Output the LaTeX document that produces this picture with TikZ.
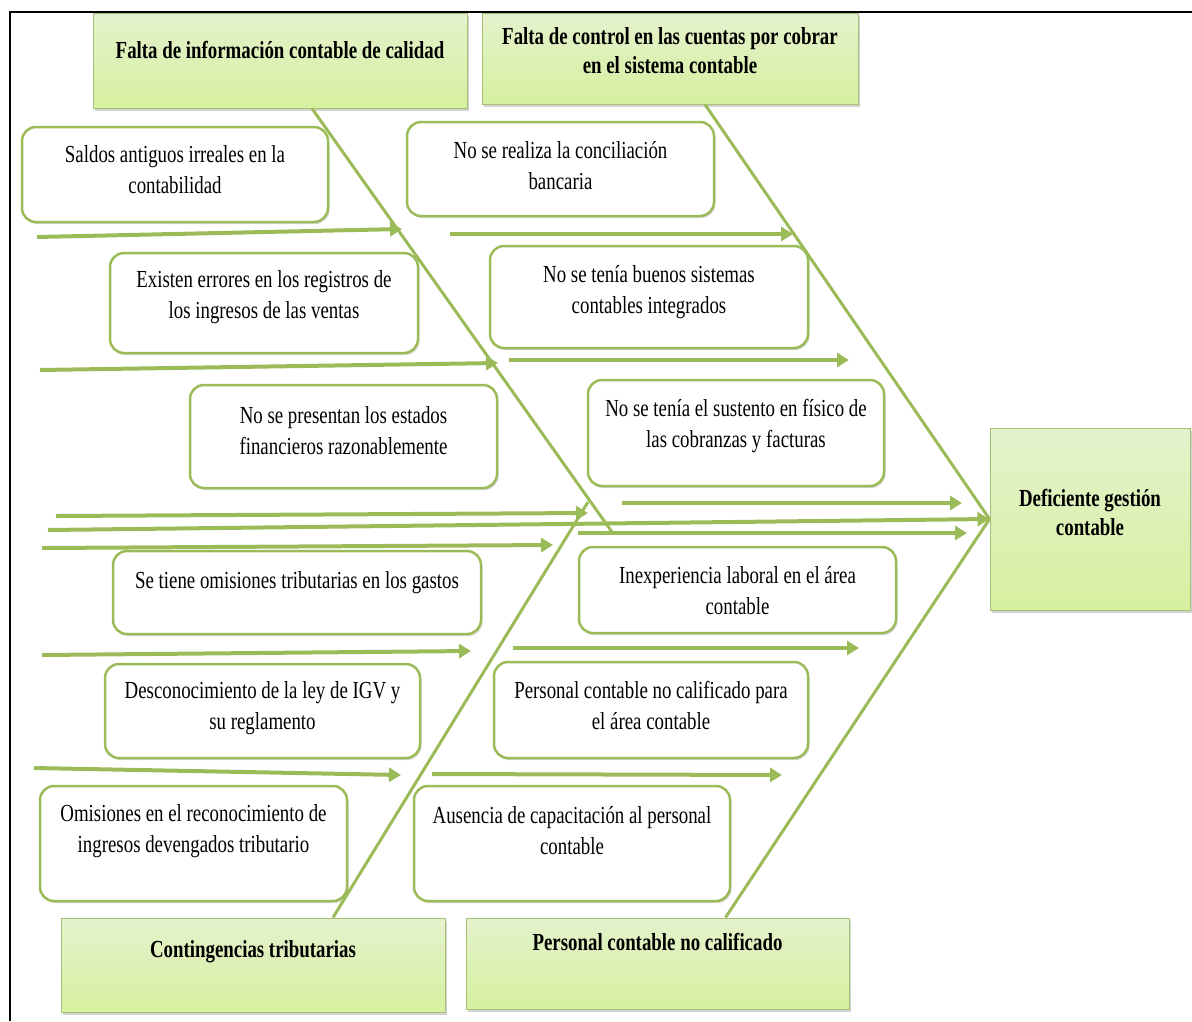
\documentclass[tikz,border=0pt]{standalone}
\usepackage{fontspec}
\setmainfont{Liberation Serif}[FakeStretch=0.77]
\usetikzlibrary{arrows.meta,shadows}
\definecolor{bonegreen}{RGB}{155,187,89}
\definecolor{headtop}{RGB}{228,242,204}
\definecolor{headbottom}{RGB}{214,240,160}
\definecolor{headedge}{RGB}{165,192,118}
\tikzstyle{bone} = [line width=3pt,bonegreen]
\tikzstyle{feeder} = [line width=4pt,bonegreen,-{Triangle[length=12pt,width=14pt]}]
\tikzstyle{causebox} = [draw=bonegreen,line width=2.5pt,rounded corners=14pt,fill=white,drop shadow={shadow xshift=1.5pt,shadow yshift=-2pt,opacity=0.3}]
\tikzstyle{headbox} = [draw=headedge,line width=1pt,top color=headtop,bottom color=headbottom,drop shadow={shadow xshift=2pt,shadow yshift=-3pt,opacity=0.35}]
\tikzstyle{cell} = [align=center,inner sep=0pt,font=\fontsize{24.5}{31}\selectfont]

\begin{document}
\begin{tikzpicture}[x=1pt,y=-1pt]
	\useasboundingbox (0,0) rectangle (1192,1021);
	\draw [line width=1.2pt] (10,1021) -- (10,12) -- (1192,12);
	\foreach \xa/\ya/\xb/\yb/\ty/\txt [count=\i] in {
		93/13/467/108/50/{Falta de información contable de calidad},
		482/13/858/104/51/{Falta de control en las cuentas por cobrar\\en el sistema contable},
		61/918/445/1012/952/{Contingencias tributarias},
		466/918/849/1009/942/{Personal contable no calificado},
		990/428/1190/610/512/{Deficiente gestión\\contable}} {
		\pgfmathsetmacro\bw{\xb-\xa}
		\pgfmathsetmacro\bh{\yb-\ya}
		\node (h\i) at ({(\xa+\xb)/2},{(\ya+\yb)/2}) [headbox,minimum width=\bw pt,minimum height=\bh pt] {};
		\node (ht\i) at ({(\xa+\xb)/2},\ty) [cell,font=\fontsize{24.5}{29}\selectfont\bfseries] {\txt};
	}
	\foreach \xa/\ya/\xb/\yb/\ty/\txt [count=\i] in {
		22/127/328/222/170/{Saldos antiguos irreales en la\\contabilidad},
		110/253/418/353/297/{Existen errores en los registros de\\los ingresos de las ventas},
		190/385/497/488/431/{No se presentan los estados\\financieros razonablemente},
		407/122/714/216/166/{No se realiza la conciliación\\bancaria},
		490/246/808/348/292/{No se tenía buenos sistemas\\contables integrados},
		588/380/884/486/426/{No se tenía el sustento en físico de\\las cobranzas y facturas},
		113/551/481/634/583/{Se tiene omisiones tributarias en los gastos},
		105/664/420/758/708/{Desconocimiento de la ley de IGV y\\su reglamento},
		40/786/347/901/831/{Omisiones en el reconocimiento de\\ingresos devengados tributario},
		579/547/896/633/591/{Inexperiencia laboral en el área\\contable},
		494/662/808/758/705/{Personal contable no calificado para\\el área contable},
		414/786/730/901/831/{Ausencia de capacitación al personal\\contable}} {
		\pgfmathsetmacro\bw{\xb-\xa}
		\pgfmathsetmacro\bh{\yb-\ya}
		\node (c\i) at ({(\xa+\xb)/2},{(\ya+\yb)/2}) [causebox,minimum width=\bw pt,minimum height=\bh pt] {};
		\node (ct\i) at ({(\xa+\xb)/2},\ty) [cell] {\txt};
	}
	\coordinate (ulend) at (612,532);
	\coordinate (llend) at (588,502);
	\coordinate (spine) at (48,530);
	\draw [bone] ([xshift=32pt]h1.south) -- (ulend);
	\draw [bone] ([xshift=35pt]h2.south) -- (h5.west);
	\draw [bone] ([xshift=80pt]h3.north) -- (llend);
	\draw [bone] ([xshift=68pt]h4.north) -- (h5.west);
	\draw [feeder] (spine) -- (h5.west);
	\foreach \xa/\ya/\xb/\yb [count=\i] in {37/237/402/229,40/370/498/363,450/234/793/234,509/360/849/360,
		56/516/588/513,42/548/553/545,622/503/962/503,578/533/967/533,
		42/655/471/651,34/768/401/775,513/648/859/648,432/774/782/775} {
		\coordinate (f\i a) at (\xa,\ya);
		\coordinate (f\i b) at (\xb,\yb);
		\draw [feeder] (f\i a) -- (f\i b);
	}
\end{tikzpicture}
\end{document}
